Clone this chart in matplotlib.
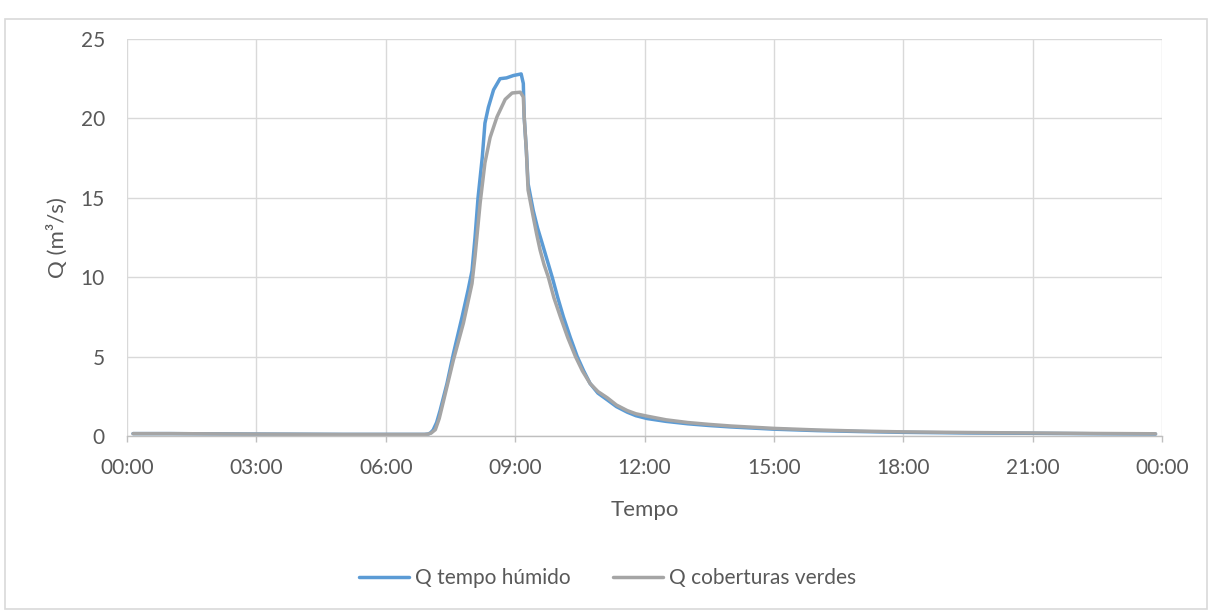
import matplotlib
matplotlib.use("Agg")
import matplotlib.pyplot as plt
from matplotlib.patches import Rectangle

# Hydrograph samples: time in hours after midnight, flow in m3/s
t_humido = [0.14, 1.0, 3.0, 5.0, 6.5, 6.9, 6.98, 7.04, 7.1, 7.18, 7.26, 7.42, 7.57,
            7.77, 7.91, 8.0, 8.07, 8.14, 8.24, 8.3, 8.38, 8.5, 8.65, 8.8, 8.96,
            9.14, 9.19, 9.21, 9.26, 9.3, 9.42, 9.52, 9.62, 9.74, 9.86, 9.99, 10.12,
            10.28, 10.44, 10.59, 10.74, 10.92, 11.14, 11.35, 11.6, 11.8, 12.06, 12.5,
            13.0, 13.5, 14.0, 15.0, 16.0, 17.0, 18.0, 19.5, 21.0, 22.5, 23.85]
q_humido = [0.15, 0.15, 0.12, 0.1, 0.1, 0.1, 0.12, 0.2, 0.38, 0.85, 1.6, 3.3, 5.2,
            7.5, 9.2, 10.4, 12.5, 15.0, 17.6, 19.7, 20.7, 21.8, 22.5, 22.55, 22.7,
            22.8, 22.2, 20.1, 18.0, 15.9, 14.2, 13.1, 12.2, 11.1, 10.0, 8.7, 7.5,
            6.2, 5.0, 4.1, 3.3, 2.7, 2.27, 1.85, 1.5, 1.28, 1.1, 0.92,
            0.77, 0.66, 0.57, 0.43, 0.34, 0.28, 0.23, 0.19, 0.17, 0.14, 0.12]

t_verdes = [0.14, 1.0, 3.0, 5.0, 6.5, 6.9, 6.98, 7.05, 7.15, 7.24, 7.33, 7.57, 7.8,
            8.0, 8.07, 8.19, 8.3, 8.42, 8.58, 8.77, 8.93, 9.12, 9.19, 9.21, 9.26,
            9.3, 9.42, 9.5, 9.58, 9.67, 9.77, 9.9, 10.05, 10.22, 10.4, 10.56, 10.74,
            10.92, 11.14, 11.35, 11.6, 11.8, 12.06, 12.5, 13.0, 13.5, 14.0, 15.0,
            16.0, 17.0, 18.0, 19.5, 21.0, 22.5, 23.85]
q_verdes = [0.15, 0.15, 0.12, 0.1, 0.1, 0.1, 0.12, 0.18, 0.4, 1.1, 2.1, 4.8, 7.1,
            9.6, 11.3, 14.7, 17.2, 18.8, 20.1, 21.2, 21.6, 21.65, 21.35, 20.1, 18.0,
            15.5, 13.8, 12.7, 11.7, 10.8, 10.0, 8.7, 7.5, 6.2, 5.0, 4.1, 3.3,
            2.8, 2.4, 1.95, 1.6, 1.4, 1.25, 1.02, 0.85, 0.73, 0.63, 0.48,
            0.38, 0.31, 0.26, 0.22, 0.19, 0.16, 0.14]

x_ticks = [0, 3, 6, 9, 12, 15, 18, 21, 24]
x_labels = ["00:00", "03:00", "06:00", "09:00", "12:00", "15:00", "18:00", "21:00", "00:00"]
y_ticks = [0, 5, 10, 15, 20, 25]

plt.rcParams['font.family'] = ['Lato', 'DejaVu Sans']
text_color = "#595959"
grid_color = "#D9D9D9"

fig = plt.figure(figsize=(12.15, 6.1), dpi=100)
fig.patches.append(Rectangle((5 / 1215, 0.002), 1202 / 1215, (600 - 10) / 610,
                             transform=fig.transFigure, fill=False,
                             edgecolor="#D9D9D9", linewidth=1.2))

ax = fig.add_axes([127 / 1215, 1 - 436 / 610, (1162 - 127) / 1215, (436 - 39) / 610])

line_kw = dict(linewidth=2.5, solid_capstyle="round", solid_joinstyle="round")
ax.plot(t_humido, q_humido, color="#5B9BD5", label="Q tempo húmido", **line_kw)
ax.plot(t_verdes, q_verdes, color="#A5A5A5", label="Q coberturas verdes", **line_kw)

ax.set_xlim(0, 24)
ax.set_ylim(0, 25)
ax.set_xticks(x_ticks)
ax.set_xticklabels(x_labels)
ax.set_yticks(y_ticks)
ax.grid(True, color=grid_color, linewidth=1)
ax.set_axisbelow(True)

for side in ["top", "right", "left"]:
    ax.spines[side].set_visible(False)
ax.spines["bottom"].set_color("#BFBFBF")
ax.spines["bottom"].set_linewidth(1)

ax.tick_params(axis="x", colors="#BFBFBF", length=4, width=1, labelcolor=text_color,
               labelsize=15, pad=11.5)
ax.tick_params(axis="y", length=0, labelcolor=text_color, labelsize=15, pad=16)

ax.set_xlabel("Tempo", color=text_color, fontsize=16, labelpad=16)
ax.set_ylabel("Q (m³/s)", color=text_color, fontsize=16, labelpad=9)

fig.legend(loc="center", bbox_to_anchor=(0.5, 1 - 578 / 610), ncol=2, frameon=False,
           fontsize=15, handlelength=2.4, handletextpad=0.3, columnspacing=2.0,
           labelcolor=text_color)

fig.savefig("out.png", dpi=100)
